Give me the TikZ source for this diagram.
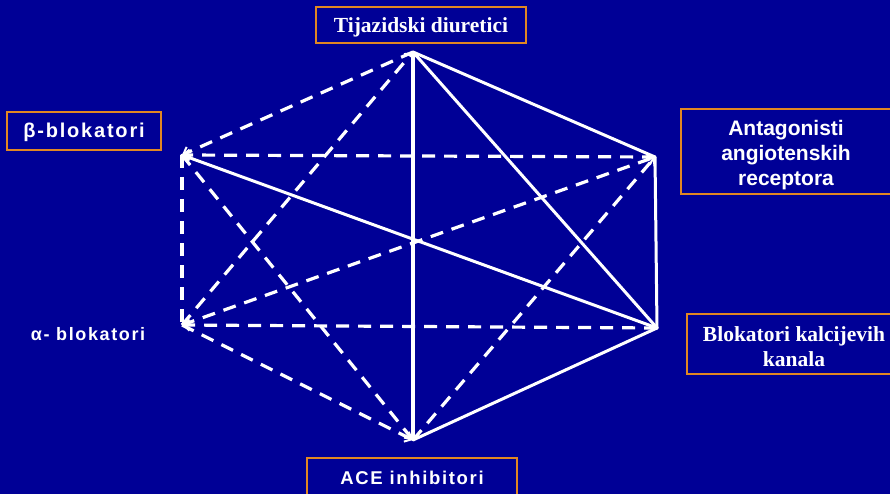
\documentclass[tikz,border=0pt]{standalone}
\usepackage{fontspec}
\setmainfont{Liberation Serif}
\setsansfont{Liberation Sans}
\newfontfamily\sfsp[LetterSpace=9]{Liberation Sans}
\usetikzlibrary{arrows.meta}
\definecolor{bgblue}{RGB}{0,0,150}
\definecolor{boxorange}{RGB}{225,135,35}
\begin{document}
\begin{tikzpicture}[x=1pt,y=-1pt,
  lbl/.style={text=white,font=\bfseries,inner sep=0pt,align=center},
  frame/.style={draw=boxorange,line width=1.2pt},
  solidline/.style={draw=white,line width=3pt},
  dashline/.style={draw=white,line width=3.2pt,dash pattern=on 13pt off 9pt},
  tip/.style={-{Straight Barb[length=6pt,width=11pt,line width=2pt]}}]
\fill[bgblue] (0,0) rectangle (890,494);
\useasboundingbox (0,0) rectangle (890,494);
% boxes
\draw[frame] (316,7) rectangle (526,43);
\draw[frame] (7,112) rectangle (161,150);
\draw[frame] (681,109) rectangle (895,194);
\draw[frame] (687,314) rectangle (895,374);
\draw[frame] (307,458) rectangle (517,500);
% labels
\node[lbl,font=\rmfamily\bfseries\fontsize{21.5}{24}\selectfont] (ltop) at (421,27.5) {Tijazidski diuretici};
\node[lbl,font=\sfsp\bfseries\fontsize{20}{22}\selectfont] (lbeta) at (84,132) {β-blokatori};
\node[lbl,font=\sffamily\bfseries\fontsize{21}{25}\selectfont] (lant) at (786,155) {Antagonisti\\angiotenskih\\receptora};
\node[lbl,font=\sfsp\bfseries\fontsize{18}{22}\selectfont] (lalpha) at (88,334) {α- blokatori};
\node[lbl,font=\rmfamily\bfseries\fontsize{21.5}{25}\selectfont] (lca) at (794,346.5) {Blokatori kalcijevih\\kanala};
\node[lbl,font=\sfsp\bfseries\fontsize{18.5}{22}\selectfont] (lace) at (412,478) {ACE inhibitori};
% vertices
\coordinate (T) at (413,52);
\coordinate (UL) at (182,155);
\coordinate (UR) at (655,157);
\coordinate (LL) at (182,325);
\coordinate (LR) at (657,328);
\coordinate (B) at (413,440);
% solid connectors
\draw[solidline,line width=3.6pt] (T) -- (B);
\draw[solidline,line cap=round] (T) -- (UR);
\draw[solidline,line cap=round] (T) -- (LR);
\draw[solidline,line cap=round] (UR) -- (LR);
\draw[solidline,line cap=round] (LR) -- (UL);
\draw[solidline,line cap=round] (LR) -- (B);
% dashed connectors
\draw[dashline,tip] (T) -- (UL);
\draw[dashline,tip] (LL) -- (T);
\draw[dashline,tip] (UR) -- (UL);
\draw[dashline,tip] (LL) -- (UR);
\draw[dashline] (UL) -- (LL);
\draw[dashline,tip] (UL) -- (B);
\draw[dashline,tip] (LR) -- (LL);
\draw[dashline,tip] (LL) -- (B);
\draw[dashline,tip] (B) -- (UR);
\end{tikzpicture}
\end{document}
